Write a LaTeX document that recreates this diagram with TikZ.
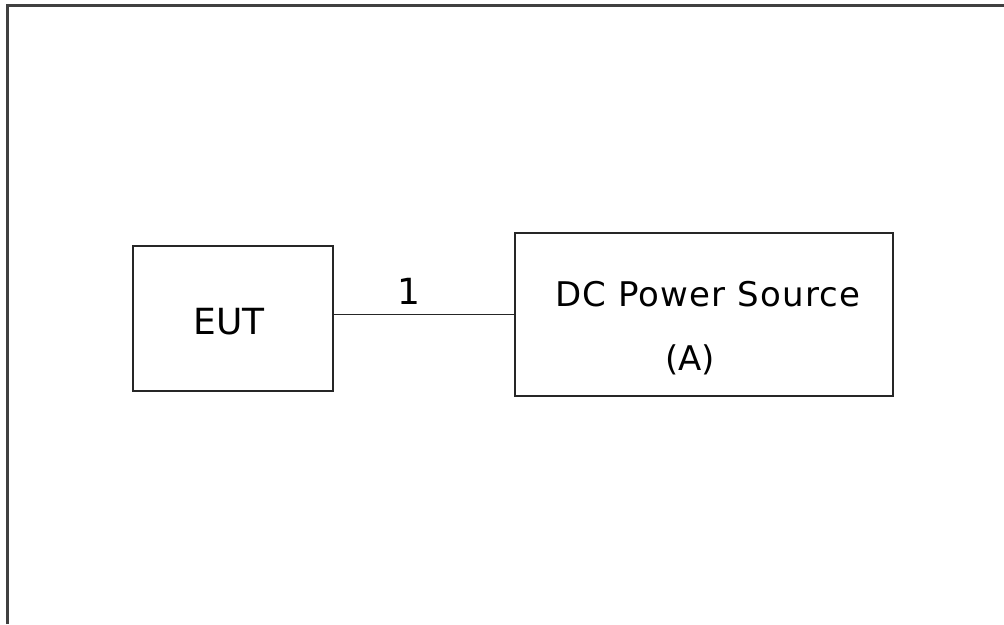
\documentclass[tikz,border=0pt]{standalone}
\usepackage{fontspec}
\setmainfont{DejaVu Sans}

\begin{document}
\begin{tikzpicture}[x=1pt, y=-1pt,
    blk/.style={draw=black!85, line width=1.4pt, minimum width=200pt,
                minimum height=145pt, inner sep=0pt},
    lbl/.style={font=\fontsize{34}{40}\selectfont, inner sep=0pt},
    widelbl/.style={lbl, font=\fontsize{34}{40}\selectfont\addfontfeature{LetterSpace=3.5}},
    biglbl/.style={font=\fontsize{36}{43}\selectfont, inner sep=0pt},
    wire/.style={draw=black!85, line width=1.2pt},
    frame/.style={draw=black!75, line width=2.2pt},
]
\useasboundingbox (0,0) rectangle (1004,624);

% --- Outer frame ---
\coordinate (fbot) at (7.5,624);
\coordinate (fcorner) at (7.5,5.5);
\coordinate (fright) at (1004,5.5);
\draw[frame] (fbot) -- (fcorner) -- (fright);

% --- EUT ---
\node[blk] (eut) at (233,318.5) {};
\node[biglbl] (eutname) at (229,321.5) {EUT};

% --- DC power source ---
\node[blk, minimum width=378pt, minimum height=163pt] (dc) at (704,314.5) {};
\node[widelbl] (dcname) at (708,294.5) {DC Power Source};
\node[lbl] (dcid) at (690,360) {(A)};

% --- Cable ---
\draw[wire] (dc.west -| eut.east) -- (dc.west);
\node[biglbl] (cable) at (409,291.5) {1};

\end{tikzpicture}
\end{document}
